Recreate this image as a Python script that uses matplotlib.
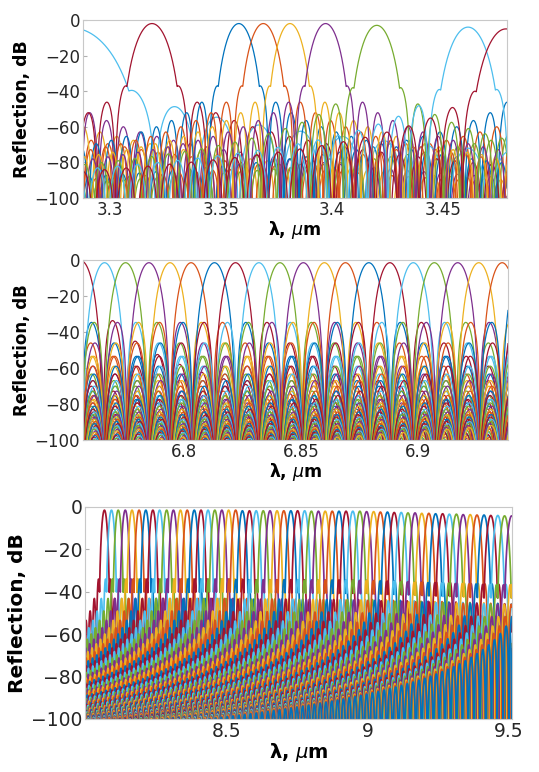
import numpy as np
import matplotlib
matplotlib.use("Agg")
import matplotlib.pyplot as plt

# MATLAB default colour order
blue, orange, yellow, purple, green, cyan, dred = (
    '#0072BD', '#D95319', '#EDB120', '#7E2F8E', '#77AC30', '#4DBEEE', '#A2142F')

# ---- panel 1 : 3.3 um band (peak centre, peak level, main-lobe width factor)
p1_centers = [3.283, 3.319, 3.358, 3.369, 3.381, 3.397, 3.420, 3.461, 3.478]
p1_peaks = [-4.5, -2, -2, -2, -2, -2, -3, -4, -5]
p1_width = [2.5, 1.1, 0.9, 0.9, 0.85, 0.9, 1.0, 1.2, 1.3]
p1_colors = [cyan, dred, blue, orange, yellow, purple, green, cyan, dred]
# gratings whose peaks fall outside the window (only their side lobes show)
p1_out_centers = [3.228, 3.247, 3.265, 3.497, 3.515, 3.535]
p1_out_colors = [orange, yellow, purple, blue, orange, green]

# ---- panel 2 : 6.8 um band
p2_centers = [6.756, 6.766, 6.775, 6.785, 6.794, 6.803, 6.813, 6.822, 6.832, 6.841,
              6.851, 6.860, 6.869, 6.879, 6.888, 6.898, 6.907, 6.917, 6.926, 6.936]
p2_peaks = [-0.5, -1.5, -1.5, -1.5, -1.5, -1.5, -1.5, -1.5, -1.5, -1.5,
            -1.5, -1.5, -1.5, -1.5, -1.5, -1.5, -1.5, -1.5, -1.5, -1.5]
p2_out_centers = [6.568, 6.578, 6.587, 6.596, 6.606, 6.615, 6.625, 6.634, 6.643, 6.653,
                  6.662, 6.672, 6.681, 6.690, 6.700, 6.709, 6.719, 6.728, 6.737, 6.747,
                  6.945, 6.955, 6.964, 6.973, 6.983, 6.992, 7.002, 7.011, 7.020, 7.030,
                  7.039, 7.049, 7.058, 7.067, 7.077, 7.086, 7.096, 7.105, 7.114, 7.124]

# ---- panel 3 : 8-9.5 um band
p3_centers = [8.065, 8.090, 8.114, 8.139, 8.163, 8.188, 8.212, 8.237, 8.261, 8.286,
              8.310, 8.335, 8.359, 8.384, 8.408, 8.433, 8.457, 8.482, 8.506, 8.531,
              8.555, 8.580, 8.604, 8.629, 8.653, 8.678, 8.702, 8.727, 8.751, 8.776,
              8.800, 8.825, 8.849, 8.874, 8.898, 8.923, 8.947, 8.972, 8.996, 9.021,
              9.045, 9.070, 9.094, 9.119, 9.143, 9.168, 9.192, 9.217, 9.241, 9.266,
              9.290, 9.315, 9.339, 9.364, 9.388, 9.413, 9.437, 9.462, 9.486]
p3_peaks = [-1.5, -1.5, -1.5, -1.5, -1.5, -1.5, -1.5, -1.5, -1.5, -1.5,
            -1.5, -1.5, -1.5, -1.5, -1.5, -1.5, -1.5, -1.5, -1.5, -1.5,
            -1.8, -1.8, -1.8, -1.8, -1.8, -1.8, -1.8, -1.8, -1.8, -1.8,
            -2.0, -2.0, -2.0, -2.0, -2.0, -2.0, -2.0, -2.0, -2.2, -2.2,
            -2.4, -2.4, -2.6, -2.6, -2.8, -2.8, -3.0, -3.0, -3.2, -3.2,
            -3.4, -3.4, -3.6, -3.6, -3.8, -3.8, -4.0, -4.0, -4.2]
p3_out_centers = [9.511, 9.535, 9.560, 9.584]

cycle = [dred, cyan, green, purple, yellow, orange, blue]

yticks = [0, -20, -40, -60, -80, -100]


def reflection(lam, c, peak, p, u0, km, off, k=2.5):
    # apodised grating response in dB: arch-shaped main lobe + sinc side lobes
    u = (lam - c) / p
    au = np.abs(u)
    with np.errstate(divide='ignore', invalid='ignore'):
        main = 20 * km * np.log10(np.clip(np.cos(np.pi * np.minimum(au, u0) / (2 * u0)), 1e-15, None))
        side = 20 * k * np.log10(np.abs(np.sinc(u)) + 1e-15) + off
    main[au >= u0] = -400
    side[au < 1] = -400
    return peak + np.maximum(main, side)


def style(ax, xlim, xticks, xticklabels, fs, lfs, xfs, ypad, xpad):
    ax.set_xlim(*xlim)
    ax.set_ylim(-100, 0)
    ax.set_yticks(yticks)
    ax.set_xticks(xticks)
    ax.set_xticklabels(xticklabels)
    for s in ax.spines.values():
        s.set_color('#c8c8c8')
        s.set_linewidth(0.8)
    ax.tick_params(direction='in', length=3, color='#b0b0b0', labelcolor='#262626',
                   labelsize=fs, pad=2)
    ax.set_ylabel('Reflection, dB', fontsize=lfs, fontweight='bold', labelpad=ypad)
    ax.set_xlabel(r'λ, $\mu$m', fontsize=xfs, fontweight='bold', labelpad=xpad)


fig = plt.figure(figsize=(5.39, 7.72), dpi=100)
lw = 0.9

# panel 1
ax1 = fig.add_axes([0.154, 0.7435, 0.7866, 0.2306])
lam1 = np.linspace(3.288, 3.4785, 4000)
for c, col in zip(p1_out_centers, p1_out_colors):
    ax1.plot(lam1, reflection(lam1, c, -2, 0.0075, 1.93, 5, -8.5, 2), color=col, lw=lw)
for c, pk, w, col in zip(p1_centers, p1_peaks, p1_width, p1_colors):
    ax1.plot(lam1, reflection(lam1, c, pk, 0.0075 * w, 1.93, 5, -8.5, 2), color=col, lw=lw)
style(ax1, (3.288, 3.4785), [3.3, 3.35, 3.4, 3.45], ['3.3', '3.35', '3.4', '3.45'],
      12, 12.5, 12.5, 3, 0)

# panel 2
ax2 = fig.add_axes([0.154, 0.430, 0.7885, 0.2332])
lam2 = np.linspace(6.7568, 6.9385, 5000)
all2 = sorted([(c, -1.5) for c in p2_out_centers] + list(zip(p2_centers, p2_peaks)))
for i, (c, pk) in enumerate(all2):
    ax2.plot(lam2, reflection(lam2, c, pk, 0.0094, 1.0, 4, 0), color=cycle[(i - 20) % 7], lw=lw)
style(ax2, (6.7568, 6.9385), [6.8, 6.85, 6.9], ['6.8', '6.85', '6.9'], 12, 12, 12.5, 3, 0)

# panel 3
ax3 = fig.add_axes([0.1577, 0.0687, 0.792, 0.2746])
lam3 = np.linspace(7.996, 9.512, 12000)
all3 = list(zip(p3_centers, p3_peaks)) + [(c, -4.2) for c in p3_out_centers]
for i, (c, pk) in enumerate(all3):
    ax3.plot(lam3, reflection(lam3, c, pk, 0.017 * (c / 8.7) ** 2, 1.45, 3.5, -6, 2),
             color=cycle[i % 7], lw=1.25)
style(ax3, (7.996, 9.512), [8.5, 9, 9.5], ['8.5', '9', '9.5'], 13.5, 14.5, 14, 3, 0)

fig.savefig('out.png', dpi=100)
